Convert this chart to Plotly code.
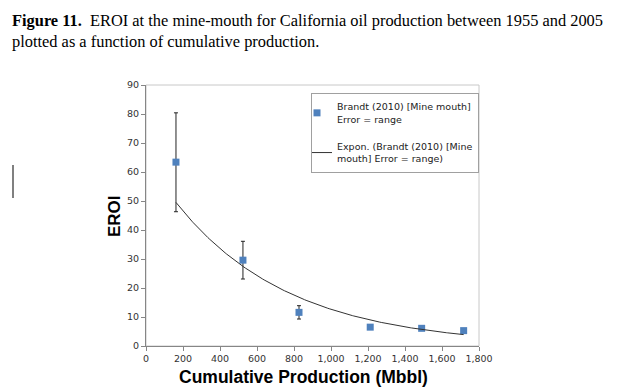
import numpy as np
import plotly.graph_objects as go

# Data
cum_prod = [162, 524, 827, 1212, 1490, 1717]
eroi = [63.4, 29.6, 11.6, 6.5, 6.1, 5.3]
err_plus = [17.0, 6.5, 2.3, 0.0, 0.0, 0.0]
err_minus = [17.1, 6.5, 2.3, 0.0, 0.0, 0.0]
x_ticks = [0, 200, 400, 600, 800, 1000, 1200, 1400, 1600, 1800]
y_ticks = [0, 10, 20, 30, 40, 50, 60, 70, 80, 90]

# Exponential trendline (least squares on ln y, as Excel does)
b, ln_a = np.polyfit(cum_prod, np.log(eroi), 1)
trend_x = np.linspace(min(cum_prod), max(cum_prod), 200)
trend_y = np.exp(ln_a) * np.exp(b * trend_x)

# page has an 8px body margin: figure is placed at (8, 8)
OFF = 8
FW, FH = 624 - OFF, 392 - OFF
# plot area in window pixels
L, R, T, B = 146, 479, 85, 346
W, H = R - L, B - T
def px(x): return (x - L) / W
def py(y): return (B - y) / H

fig = go.Figure()
fig.add_trace(go.Scatter(
    x=cum_prod, y=eroi, mode="markers", legendgroup="a",
    name="Brandt (2010) [Mine mouth]<br>Error = range",
    marker=dict(symbol="square", size=7, color="#4F81BD"),
    error_y=dict(type="data", symmetric=False, array=err_plus, arrayminus=err_minus,
                 color="#222222", thickness=1, width=2),
))
fig.add_trace(go.Scatter(
    x=trend_x, y=trend_y, mode="lines", legendgroup="b",
    name="Expon. (Brandt (2010) [Mine<br>mouth] Error = range)",
    line=dict(color="#333333", width=1),
))

axis_common = dict(showgrid=False, zeroline=False, showline=True, linecolor="#868686",
                   linewidth=1, ticks="outside", ticklen=4, tickcolor="#868686",
                   tickfont=dict(family="DejaVu Sans", size=9.5, color="#333333"))
fig.update_xaxes(range=[0, 1800], tickvals=x_ticks,
                 ticktext=[f"{v:,}" for v in x_ticks], **axis_common)
fig.update_yaxes(range=[0, 90], tickvals=y_ticks, **axis_common)

fig.update_layout(
    width=FW, height=FH,
    margin=dict(l=L - OFF, r=FW - (R - OFF), t=T - OFF, b=FH - (B - OFF), pad=0),
    paper_bgcolor="white", plot_bgcolor="white",
    showlegend=True,
    legend=dict(x=px(311), y=py(93), xanchor="left", yanchor="top",
                bgcolor="white", bordercolor="#A0A0A0", borderwidth=1,
                font=dict(family="DejaVu Sans", size=9.5, color="#222222"),
                itemwidth=30, indentation=-15, traceorder="grouped", tracegroupgap=12),
    shapes=[
        dict(type="rect", xref="paper", yref="paper", x0=0, x1=1, y0=0, y1=1,
             line=dict(color="#C8C8C8", width=1), layer="below"),
        dict(type="line", xref="paper", yref="paper", x0=px(13), x1=px(13),
             y0=py(165), y1=py(198), line=dict(color="#808080", width=2)),
    ],
    annotations=[
        dict(xref="paper", yref="paper", x=px(10), y=py(21), xanchor="left", yanchor="middle",
             showarrow=False, align="left",
             text="<b>Figure 11.</b>  EROI at the mine-mouth for California oil production between 1955 and 2005",
             font=dict(family="Liberation Serif, Times New Roman", size=16.4, color="black")),
        dict(xref="paper", yref="paper", x=px(10), y=py(42), xanchor="left", yanchor="middle",
             showarrow=False, align="left",
             text="plotted as a function of cumulative production.",
             font=dict(family="Liberation Serif, Times New Roman", size=16.4, color="black")),
        dict(xref="paper", yref="paper", x=px(114), y=py(216), textangle=-90,
             xanchor="center", yanchor="middle", showarrow=False, text="<b>EROI</b>",
             font=dict(family="Liberation Sans, Arial", size=17, color="black")),
        dict(xref="paper", yref="paper", x=px(303.5), y=py(376.5),
             xanchor="center", yanchor="middle", showarrow=False,
             text="<b>Cumulative Production (Mbbl)</b>",
             font=dict(family="Liberation Sans, Arial", size=17.5, color="black")),
    ],
)

fig.write_html("out.html")
